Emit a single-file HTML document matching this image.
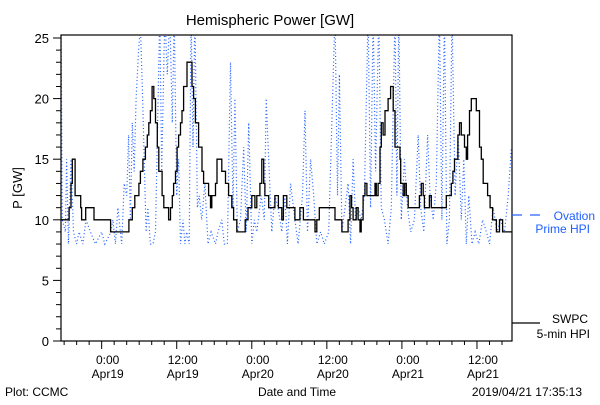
<!DOCTYPE html>
<html><head><meta charset="utf-8"><style>
html,body{margin:0;padding:0;background:#fff;}
svg text{font-family:"Liberation Sans",sans-serif;}
</style></head><body>
<svg id="chart" width="600" height="400" xmlns="http://www.w3.org/2000/svg">
<rect width="600" height="400" fill="#fff"/>
<text x="270" y="25" font-size="15" text-anchor="middle">Hemispheric Power [GW]</text>
<defs><clipPath id="clip"><rect x="61" y="35" width="451" height="306"/></clipPath></defs>
<g id="axes"></g>
<g id="series" clip-path="url(#clip)"></g>
<rect x="61" y="35" width="451" height="306" fill="none" stroke="#000" stroke-width="1.2"/>
<text transform="translate(22,188) rotate(-90)" font-size="13" text-anchor="middle">P [GW]</text>
<text x="297" y="396" font-size="12" text-anchor="middle">Date and Time</text>
<text x="5" y="396" font-size="12">Plot: CCMC</text>
<text x="582" y="396" font-size="12" text-anchor="end">2019/04/21 17:35:13</text>
<g>
<line x1="512" y1="215" x2="522" y2="215" stroke="#1f5fff" stroke-width="1.2"/>
<line x1="530" y1="215" x2="540" y2="215" stroke="#1f5fff" stroke-width="1.2"/>
<text x="595" y="220" font-size="12" text-anchor="end" fill="#1f5fff">Ovation</text>
<text x="590" y="233" font-size="12" text-anchor="end" fill="#1f5fff">Prime HPI</text>
</g>
<g>
<line x1="512" y1="323" x2="540" y2="323" stroke="#000" stroke-width="1.2"/>
<text x="588" y="323" font-size="12" text-anchor="end">SWPC</text>
<text x="590" y="338" font-size="12" text-anchor="end">5-min HPI</text>
</g>
</svg>
<script>
// hours relative to 2019-04-19 00:00
const swpcTimes=[-6.5,-5.2,-4.9,-4.7,-4.25,-3.35,-3.2,-2.55,-1.22,1.43,4.35,4.9,5.3,5.95,6.2,6.59,7.0,7.3,7.54,7.8,8.07,8.34,8.6,8.9,9.14,9.67,9.94,10.7,11.0,11.3,11.5,11.8,12.06,12.3,12.6,12.85,13.1,13.65,14.45,14.7,14.98,15.5,16.04,16.3,17.1,17.4,17.6,18.2,18.44,19.2,19.8,20.3,20.8,21.1,21.6,22.95,23.4,24.0,24.5,24.8,25.3,25.6,25.9,26.1,26.7,27.7,28.26,28.8,29.06,29.6,30.9,31.7,32.25,34.1,34.4,34.8,37.3,38.4,39.4,39.7,39.95,40.2,40.7,41.0,41.3,41.5,41.8,42.1,42.4,43.7,43.9,44.2,44.5,44.7,45.0,45.3,45.8,46.2,46.6,46.9,47.7,47.8,48.2,48.45,48.7,49.0,50.8,51.1,51.4,51.6,52.4,52.7,55.1,55.9,56.15,56.4,56.95,57.2,57.5,58.0,58.3,58.5,58.8,59.1,59.9,60.4,60.7,61.0,61.7,62.1,62.5,63.1,63.6,64.1,65.6];
const swpcValues=[10,11,13,15,12,11,10,11,10,9,10,11,12,13,14,15,16,17,18,19,21,20,18,16,14,12,11,10,11,12,13,14,16,17,18,19,21,23,21,20,18,16,14,13,12,11,12,13,15,14,13,12,11,10,9,10,11,12,11,12,13,15,13,12,11,12,11,10,12,11,10,11,10,9,10,11,10,9,10,12,11,10,11,10,9,10,12,13,12,13,12,13,16,18,17,19,20,21,19,16,15,13,12,13,12,11,12,13,12,11,12,11,12,13,14,15,17,18,17,16,15,17,19,20,19,16,15,13,12,11,10,9,10,9,9];
const ovTimes=[-6.5,-6.3,-5.8,-5.6,-5.3,-4.9,-4.5,-4.0,-3.6,-3.0,-2.5,-1.8,-1.0,0,0.5,1.5,1.8,2.2,2.6,3.2,3.6,4.0,4.3,4.6,4.9,5.2,5.5,5.9,6.2,6.5,6.8,7.1,7.4,7.8,8.2,8.6,9.3,9.6,10.1,10.5,10.9,11.3,11.6,12.0,12.3,12.6,13.0,13.3,13.6,14.0,14.3,14.6,14.9,15.3,15.6,16.0,16.5,17.0,17.5,18.2,18.6,19.2,19.6,20.1,20.6,21.0,21.3,21.7,22.2,22.7,23.1,23.5,24.0,24.4,24.8,25.5,26.0,26.3,26.7,27.2,27.7,28.2,28.5,28.8,29.3,29.7,30.2,30.9,31.4,32.1,32.5,32.9,33.4,33.9,34.4,35.0,35.6,36.3,37.3,37.7,38.0,38.4,38.9,39.4,39.8,40.2,40.6,41.0,41.5,42.0,42.6,43.0,43.4,43.8,44.3,44.7,45.2,45.8,46.3,46.9,47.2,47.5,47.9,48.4,48.9,49.4,50.0,50.6,51.0,51.5,52.1,52.5,53.0,53.5,54.0,54.4,54.8,55.2,55.6,56.0,56.5,57.0,57.5,57.9,58.3,58.7,59.2,59.7,60.3,60.9,61.5,62.0,62.6,63.2,63.8,64.4,65.0,65.5];
const ovValues=[27,10,9,15,8,15,9,8,9,8,10,9,8,9,8,9,10,8,11,8,13,12,17,10,18,14,20,24,26,21,15,9,11,8,8,9,27,14,27,22,27,18,27,12,15,8,10,8,9,8,27,16,27,11,12,10,13,8,9,8,9,10,8,8,23,11,20,9,10,16,9,18,8,10,9,12,10,20,15,9,12,11,10,9,12,8,13,10,8,12,19,9,15,12,8,9,8,9,27,12,22,9,11,13,8,15,10,11,10,12,27,11,27,14,27,11,10,8,11,27,12,27,10,15,11,9,10,17,11,9,17,12,10,13,27,10,27,8,10,27,12,17,10,15,8,12,8,9,8,10,9,8,11,9,10,9,12,16];
const yTickValues=[0,5,10,15,20,25];
const xTickHours=[0,12,24,36,48,60];
const xTickTimes=["0:00","12:00","0:00","12:00","0:00","12:00"];
const xTickDates=["Apr19","Apr19","Apr20","Apr20","Apr21","Apr21"];

const NS="http://www.w3.org/2000/svg";
const X0=61,X1=512,H0=-6.5,H1=65.6;
function xs(h){return X0+(h-H0)/(H1-H0)*(X1-X0);}
function ys(v){return 341-v*12.12;}
function mk(tag,attrs,parent){const e=document.createElementNS(NS,tag);for(const k in attrs)e.setAttribute(k,attrs[k]);parent.appendChild(e);return e;}
const axes=document.getElementById('axes');
const series=document.getElementById('series');
// y ticks
for(let v=0;v<=25;v++){
  const len=(v%5===0)?8:5;
  const t=mk('line',{x1:X0-len,x2:X0,y1:ys(v),y2:ys(v),stroke:'#000'},axes);
  
  
}
yTickValues.forEach(v=>{
  const t=mk('text',{x:X0-12,y:ys(v)+5,'font-size':13,'text-anchor':'end'},axes);
  t.textContent=v;
  
  
});
// x minor ticks every 2h
for(let h=-6;h<=65;h+=2){
  const major=(h%12===0);
  const t=mk('line',{x1:xs(h),x2:xs(h),y1:341,y2:341+(major?8:4),stroke:'#000'},axes);
  
  
}
xTickHours.forEach((h,i)=>{
  const a=mk('text',{x:xs(h)+6,y:364,'font-size':12,'text-anchor':'middle'},axes);
  a.textContent=xTickTimes[i];
  
  
  const b=mk('text',{x:xs(h)+6,y:378,'font-size':12,'text-anchor':'middle'},axes);
  b.textContent=xTickDates[i];
  
  
});
// ovation dotted line
let d='';
ovTimes.forEach((h,i)=>{d+=(i?'L':'M')+xs(h).toFixed(1)+','+ys(ovValues[i]).toFixed(1);});
const ov=mk('path',{d:d,fill:'none',stroke:'#1f5fff','stroke-width':1.2,'stroke-dasharray':'1 2.5'},series);


// swpc step line
let s='';
swpcTimes.forEach((h,i)=>{
  const x=xs(h).toFixed(1),y=ys(swpcValues[i]).toFixed(1);
  if(i===0)s+='M'+x+','+y;else s+='H'+x+'V'+y;
});
const sw=mk('path',{d:s,fill:'none',stroke:'#000','stroke-width':1.3},series);


</script>
</body></html>
